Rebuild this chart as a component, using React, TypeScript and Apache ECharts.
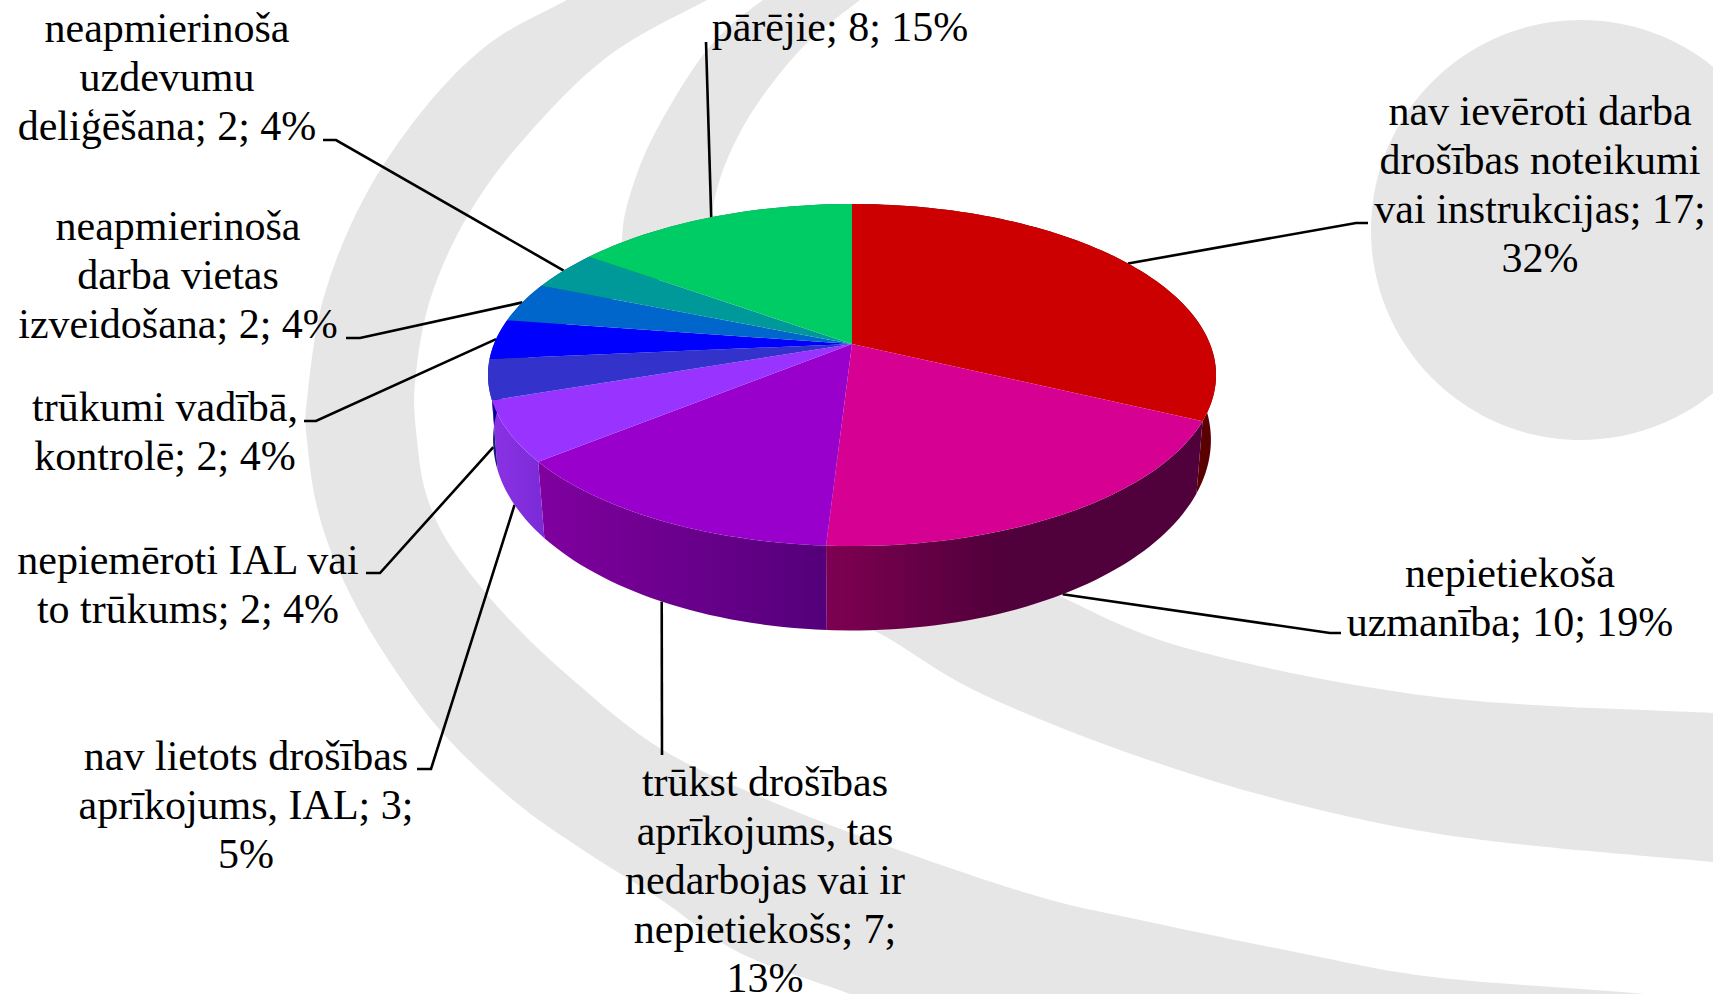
import React, { useEffect, useRef } from "react";
import * as echarts from "echarts";

// ---------- data ----------
const categories = [
  "nav ievēroti darba drošības noteikumi vai instrukcijas",
  "nepietiekoša uzmanība",
  "trūkst drošības aprīkojums, tas nedarbojas vai ir nepietiekošs",
  "nav lietots drošības aprīkojums, IAL",
  "nepiemēroti IAL vai to trūkums",
  "trūkumi vadībā, kontrolē",
  "neapmierinoša darba vietas izveidošana",
  "neapmierinoša uzdevumu deliģēšana",
  "pārējie",
];
const values = [17, 10, 7, 3, 2, 2, 2, 2, 8];
const labelTexts = [
  "nav ievēroti darba\ndrošības noteikumi\nvai instrukcijas; 17;\n32%",
  "nepietiekoša\nuzmanība; 10; 19%",
  "trūkst drošības\naprīkojums, tas\nnedarbojas vai ir\nnepietiekošs; 7;\n13%",
  "nav lietots drošības\naprīkojums, IAL; 3;\n5%",
  "nepiemēroti IAL vai\nto trūkums; 2; 4%",
  "trūkumi vadībā,\nkontrolē; 2; 4%",
  "neapmierinoša\ndarba vietas\nizveidošana; 2; 4%",
  "neapmierinoša\nuzdevumu\ndeliģēšana; 2; 4%",
  "pārējie; 8; 15%",
];

// ---------- styles ----------
const topColors = ["#CC0000", "#D60093", "#9900CC", "#9933FF", "#3333CC", "#0000FF", "#0066CC", "#009999", "#00CC66"];
const wallStops: [number, string][][] = [
  [[0, "#5A0000"], [1, "#5A0000"]],
  [[0, "#7E0052"], [0.47, "#50003A"], [1, "#50003A"]],
  [[0, "#80009F"], [1, "#54007A"]],
  [[0, "#8A32E6"], [1, "#7B2AD6"]],
  [[0, "#1C1C80"], [1, "#1C1C80"]],
  [[0, "#000090"], [1, "#000090"]],
  [[0, "#003C78"], [1, "#003C78"]],
  [[0, "#005A5A"], [1, "#005A5A"]],
  [[0, "#007A3C"], [1, "#007A3C"]],
];

// ---------- layout ----------
const CX = 852;
const topRim = { A: 358, B: 165.4, k: -0.1813, cy: 344 };
const bottomRim = { A: 353.7, B: 185, k: -0.17, cy: 407.6 };
const labelCentres: [number, number][] = [
  [1540, 184], [1510, 597.5], [765, 880], [246, 805], [188, 584.5], [165, 431], [178, 274.5], [167, 77], [840, 27],
];
// leader: which rim it leaves from, then the remaining points towards the text
const leaderRims = ["top", "bottom", "bottom", "bottom", "bottom", "top", "top", "top", "top"];
const leaderTails: [number, number][][] = [
  [[1356, 223], [1368, 223]],
  [[1330, 633], [1341, 633]],
  [[662, 755]],
  [[431, 769], [417, 769]],
  [[380, 573], [366, 573]],
  [[316, 421], [304, 421]],
  [[360, 338], [346, 338]],
  [[336, 140], [323, 140]],
  [[706, 42]],
];

// ---------- projection of the disc (perspective view) ----------
const total = values.reduce((a, b) => a + b, 0);
const project = (rim: typeof topRim, angle: number): [number, number] => {
  const u = Math.sin(angle);
  const v = -Math.cos(angle);
  const d = 1 + rim.k * v;
  return [CX + (rim.A * u) / d, rim.cy + (rim.B * v) / d];
};
const arcPoints = (rim: typeof topRim, a0: number, a1: number) => {
  const n = Math.max(2, Math.ceil(((a1 - a0) / (Math.PI * 2)) * 240));
  const pts: [number, number][] = [];
  for (let i = 0; i <= n; i++) pts.push(project(rim, a0 + ((a1 - a0) * i) / n));
  return pts;
};
const sliceAngles = values.map((_, i) => {
  const before = values.slice(0, i).reduce((a, b) => a + b, 0);
  return [(before / total) * Math.PI * 2, ((before + values[i]) / total) * Math.PI * 2];
});

// ---------- background swooshes ----------
const smoothPath = (p: number[][]) => {
  let d = `M${p[0][0]} ${p[0][1]}`;
  for (let i = 0; i < p.length - 1; i++) {
    const p0 = p[Math.max(0, i - 1)];
    const p1 = p[i];
    const p2 = p[i + 1];
    const p3 = p[Math.min(p.length - 1, i + 2)];
    d += `C${p1[0] + (p2[0] - p0[0]) / 6} ${p1[1] + (p2[1] - p0[1]) / 6} ${p2[0] - (p3[0] - p1[0]) / 6} ${p2[1] - (p3[1] - p1[1]) / 6} ${p2[0]} ${p2[1]}`;
  }
  return d;
};
const outerBandOuter = [[640, -40], [567, 0], [490, 43], [423, 110], [363, 200], [323, 300], [307, 400], [307, 440], [317, 507], [340, 573], [380, 647], [440, 730], [513, 800], [580, 848], [657, 897], [740, 953], [850, 994], [900, 1015]];
const outerBandInner = [[1780, 1006], [1633, 993], [1433, 977], [1300, 953], [1140, 920], [1040, 897], [907, 853], [780, 805], [663, 750], [573, 680], [507, 617], [453, 550], [427, 497], [417, 440], [415, 383], [430, 300], [467, 217], [523, 140], [607, 57], [707, 0], [790, -40]];
const innerBandLeft = [[900, -30], [860, 0], [800, 50], [743, 127], [713, 207], [712, 300], [800, 600], [877, 632], [980, 693], [1140, 757], [1300, 805], [1467, 838], [1713, 862], [1780, 868]];
const innerBandRight = [[1780, 716], [1713, 713], [1437, 697], [1193, 650], [1062, 597], [1000, 560], [760, 400], [625, 300], [622, 240], [630, 195], [655, 133], [707, 50], [763, 0], [830, -40]];
const closedBand = (a: number[][], b: number[][]) =>
  smoothPath(a) + `L${b[0][0]} ${b[0][1]}` + smoothPath(b).replace(/^M[^C]*/, "") + "Z";
echarts.graphic.registerShape("outerBand", echarts.graphic.extendPath(closedBand(outerBandOuter, outerBandInner), {}));
echarts.graphic.registerShape("innerBand", echarts.graphic.extendPath(closedBand(innerBandLeft, innerBandRight), {}));

const indexData = values.map((v, i) => [i, v]);

export default function App() {
  const ref = useRef<HTMLDivElement>(null);
  useEffect(() => {
    const chart = echarts.init(ref.current!, undefined, { renderer: "svg" });
    chart.setOption({
      animation: false,
      backgroundColor: "#FFFFFF",
      graphic: {
        elements: [
          { type: "outerBand", x: 0, y: 0, z: 0, silent: true, style: { fill: "#E6E6E6" } },
          { type: "innerBand", x: 0, y: 0, z: 0, silent: true, style: { fill: "#E6E6E6" } },
          { type: "ellipse", z: 0, silent: true, shape: { cx: 1581, cy: 230, rx: 210, ry: 210 }, style: { fill: "#E6E6E6" } },
        ],
      },
      series: [
        {
          // leader lines, under the pie
          type: "custom",
          name: "leaders",
          coordinateSystem: "none",
          z: 2,
          silent: true,
          data: indexData,
          renderItem: (_p: any, api: any) => {
            const i = api.value(0);
            const [a0, a1] = sliceAngles[i];
            const rim = leaderRims[i] === "top" ? topRim : bottomRim;
            return {
              type: "polyline",
              shape: { points: [project(rim, (a0 + a1) / 2), ...leaderTails[i]] },
              style: { stroke: "#000000", lineWidth: 2.6, fill: "none" },
            };
          },
        },
        {
          // side walls
          type: "custom",
          name: "walls",
          coordinateSystem: "none",
          z: 3,
          silent: true,
          data: indexData,
          renderItem: (_p: any, api: any) => {
            const i = api.value(0);
            const [a0, a1] = sliceAngles[i];
            return {
              type: "polygon",
              shape: { points: [...arcPoints(topRim, a0, a1), ...arcPoints(bottomRim, a0, a1).reverse()] },
              style: {
                fill: new echarts.graphic.LinearGradient(
                  0, 0, 1, 0,
                  wallStops[i].map(([offset, color]) => ({ offset, color }))
                ),
              },
            };
          },
        },
        {
          // top faces
          type: "custom",
          name: "slices",
          coordinateSystem: "none",
          z: 4,
          silent: true,
          data: indexData,
          renderItem: (_p: any, api: any) => {
            const i = api.value(0);
            const [a0, a1] = sliceAngles[i];
            return {
              type: "polygon",
              shape: { points: [[CX, topRim.cy], ...arcPoints(topRim, a0, a1)] },
              style: { fill: topColors[i] },
            };
          },
        },
        {
          // labels
          type: "custom",
          name: "labels",
          coordinateSystem: "none",
          z: 5,
          silent: true,
          data: indexData,
          renderItem: (_p: any, api: any) => {
            const i = api.value(0);
            return {
              type: "text",
              x: labelCentres[i][0],
              y: labelCentres[i][1],
              style: {
                text: labelTexts[i],
                fontFamily: "Liberation Serif",
                fontSize: 42,
                lineHeight: 49,
                fill: "#000000",
                align: "center",
                verticalAlign: "middle",
              },
            };
          },
        },
      ],
    });
    return () => chart.dispose();
  }, []);
  return (
    <div
      ref={ref}
      aria-label={categories.join(", ")}
      style={{ position: "fixed", left: 0, top: 0, width: 1713, height: 994 }}
    />
  );
}
